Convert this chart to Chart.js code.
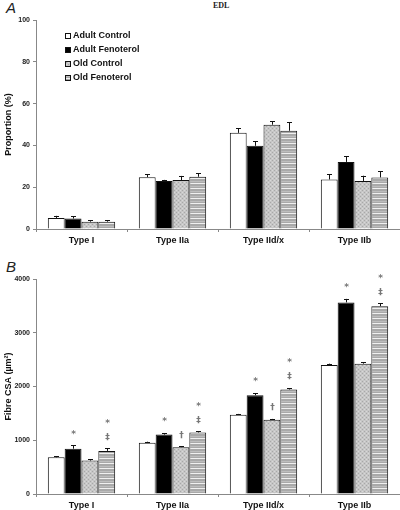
<!DOCTYPE html>
<html>
<head>
<meta charset="utf-8">
<script src="https://cdn.jsdelivr.net/npm/chart.js@4/dist/chart.umd.min.js"></script>
<style>
  body { margin: 0; background: #fff; width: 400px; height: 510px; overflow: hidden; position: relative; font-family: "Liberation Sans", Arial, sans-serif; }
  .wrap { position: absolute; left: 0; width: 400px; }
  #wrapA { top: 0; height: 250px; }
  #wrapB { top: 255px; height: 255px; }
  .panel { position: absolute; font-style: italic; font-size: 15px; color: #222; }
  #title { position: absolute; left: 213px; top: 1px; font: bold 8px "Liberation Serif", "Times New Roman", serif; color: #222; }
</style>
</head>
<body>
<div class="panel" style="left:6px; top:-1px;">A</div>
<div id="title">EDL</div>
<div class="panel" style="left:6px; top:258px;">B</div>
<div class="wrap" id="wrapA"><canvas id="chartA" width="400" height="250"></canvas></div>
<div class="wrap" id="wrapB"><canvas id="chartB" width="400" height="255"></canvas></div>
<script>
// categories and groups
const fibreTypes = ['Type I', 'Type IIa', 'Type IId/x', 'Type IIb'];
const groupNames = ['Adult Control', 'Adult Fenoterol', 'Old Control', 'Old Fenoterol'];

// Panel A: proportion (%) per group, with SEM
const propAdultControl = [5.3, 24.8, 46, 23.7];
const propAdultFenoterol = [5, 23, 39.8, 32.1];
const propOldControl = [3.5, 23.4, 49.9, 23];
const propOldFenoterol = [3.5, 25, 47, 24.7];
const propErrAdultControl = [1, 1.5, 2.3, 2.5];
const propErrAdultFenoterol = [1.2, 0.5, 2.3, 2.6];
const propErrOldControl = [0.6, 2, 1.7, 2.5];
const propErrOldFenoterol = [0.7, 1.7, 4, 3];

// Panel B: fibre CSA (µm²) per group, with SEM
const csaAdultControl = [683, 955, 1475, 2400];
const csaAdultFenoterol = [843, 1105, 1838, 3565];
const csaOldControl = [622, 872, 1382, 2425];
const csaOldFenoterol = [802, 1145, 1945, 3495];
const csaErrAdultControl = [20, 18, 15, 25];
const csaErrAdultFenoterol = [60, 30, 40, 65];
const csaErrOldControl = [25, 15, 15, 30];
const csaErrOldFenoterol = [45, 18, 25, 50];

// significance marks above bars in panel B
const marksAdultControl = ['', '', '', ''];
const marksAdultFenoterol = ['*', '*', '*', '*'];
const marksOldControl = ['', '†', '†', ''];
const marksOldFenoterol = ['*\n‡', '*\n‡', '*\n‡', '*\n‡'];

const propTicks = [0, 20, 40, 60, 80, 100];
const csaTicks = [0, 1000, 2000, 3000, 4000];

// fill patterns
function dottedPattern() {
  const c = document.createElement('canvas');
  c.width = 4; c.height = 4;
  const g = c.getContext('2d');
  g.fillStyle = '#c6c6c6'; g.fillRect(0, 0, 4, 4);
  g.fillStyle = '#a8a8a8';
  g.fillRect(0, 0, 1, 1); g.fillRect(2, 2, 1, 1);
  g.fillStyle = '#d8d8d8';
  g.fillRect(2, 0, 1, 1); g.fillRect(0, 2, 1, 1);
  return g.createPattern(c, 'repeat');
}
function stripePattern() {
  const c = document.createElement('canvas');
  c.width = 4; c.height = 5;
  const g = c.getContext('2d');
  g.fillStyle = '#a9a9a9'; g.fillRect(0, 0, 4, 5);
  g.fillStyle = '#bdbdbd'; g.fillRect(0, 1, 4, 1);
  g.fillStyle = '#f0f0f0'; g.fillRect(0, 3, 4, 1);
  return g.createPattern(c, 'repeat');
}
const fills = ['#ffffff', '#000000', dottedPattern(), stripePattern()];

const errPlugin = {
  id: 'errPlugin',
  afterDatasetsDraw(chart, args, opts) {
    const ctx = chart.ctx;
    const yScale = chart.scales.y;
    ctx.save();
    chart.data.datasets.forEach((ds, i) => {
      const meta = chart.getDatasetMeta(i);
      meta.data.forEach((bar, j) => {
        const v = ds.data[j];
        const top = yScale.getPixelForValue(v + ds.errors[j]);
        ctx.strokeStyle = '#111';
        ctx.lineWidth = 1;
        ctx.beginPath();
        ctx.moveTo(Math.round(bar.x) + 0.5, bar.y);
        ctx.lineTo(Math.round(bar.x) + 0.5, top);
        ctx.moveTo(Math.round(bar.x) - 2, Math.round(top) + 0.5);
        ctx.lineTo(Math.round(bar.x) + 3, Math.round(top) + 0.5);
        ctx.stroke();
        const mark = ds.marks ? ds.marks[j] : '';
        if (mark) {
          ctx.fillStyle = '#777';
          ctx.font = 'bold 9px "DejaVu Sans", sans-serif';
          ctx.textAlign = 'center';
          ctx.textBaseline = 'middle';
          const lines = mark.split('\n').reverse();
          lines.forEach((t, k) => {
            ctx.fillText(t, Math.round(bar.x) + 0.5, top - 11 - k * 14);
          });
        }
      });
    });
    if (opts.legend) {
      ctx.font = 'bold 9px "Liberation Sans", Arial, sans-serif';
      ctx.textAlign = 'left';
      ctx.textBaseline = 'middle';
      groupNames.forEach((name, i) => {
        const y = 36 + i * 14;
        ctx.fillStyle = fills[i];
        ctx.fillRect(65, y - 3, 6, 6);
        ctx.strokeStyle = '#111';
        ctx.strokeRect(65.5, y - 2.5, 5, 5);
        ctx.fillStyle = '#111';
        ctx.fillText(name, 73, y);
      });
    }
    ctx.restore();
  }
};

function makeDatasets(values, errors, marks) {
  return groupNames.map((name, i) => ({
    label: name,
    data: values[i],
    errors: errors[i],
    marks: marks ? marks[i] : null,
    backgroundColor: fills[i],
    borderColor: '#111',
    borderWidth: 1,
    borderSkipped: 'bottom',
    categoryPercentage: 0.74,
    barPercentage: 1.0
  }));
}

function makeChart(id, datasets, ticks, yTitle, topPad, xHeight, legend) {
  return new Chart(document.getElementById(id), {
    type: 'bar',
    data: { labels: fibreTypes, datasets: datasets },
    options: {
      responsive: false,
      animation: false,
      layout: { padding: { top: topPad, right: 0, bottom: 0, left: 0 } },
      plugins: { legend: { display: false }, tooltip: { enabled: false }, errPlugin: { legend: legend } },
      scales: {
        x: {
          grid: { display: true, drawOnChartArea: false, drawTicks: true, tickLength: 3, offset: true, color: '#888' },
          border: { color: '#888' },
          ticks: { color: '#111', font: { family: '"Liberation Sans", Arial, sans-serif', size: 9, weight: 'bold' }, padding: 3 },
          afterFit: s => { s.height = xHeight; }
        },
        y: {
          min: ticks[0],
          max: ticks[ticks.length - 1],
          afterBuildTicks: s => { s.ticks = ticks.map(v => ({ value: v })); },
          grid: { display: true, drawOnChartArea: false, drawTicks: true, tickLength: 3, color: '#888' },
          border: { color: '#888' },
          ticks: {
            color: '#222',
            font: { family: '"Liberation Sans", Arial, sans-serif', size: 7, weight: 'bold' },
            padding: 3,
            callback: v => String(v)
          },
          title: { display: true, text: yTitle, color: '#111', font: { family: '"Liberation Sans", Arial, sans-serif', size: 9, weight: 'bold' }, padding: { top: 3, bottom: 0 } },
          afterFit: s => { s.width = 36; }
        }
      }
    },
    plugins: [errPlugin]
  });
}

makeChart('chartA',
  makeDatasets([propAdultControl, propAdultFenoterol, propOldControl, propOldFenoterol],
               [propErrAdultControl, propErrAdultFenoterol, propErrOldControl, propErrOldFenoterol], null),
  propTicks, 'Proportion (%)', 20, 21, true);

makeChart('chartB',
  makeDatasets([csaAdultControl, csaAdultFenoterol, csaOldControl, csaOldFenoterol],
               [csaErrAdultControl, csaErrAdultFenoterol, csaErrOldControl, csaErrOldFenoterol],
               [marksAdultControl, marksAdultFenoterol, marksOldControl, marksOldFenoterol]),
  csaTicks, 'Fibre CSA (µm²)', 24, 16, false);
</script>
</body>
</html>
